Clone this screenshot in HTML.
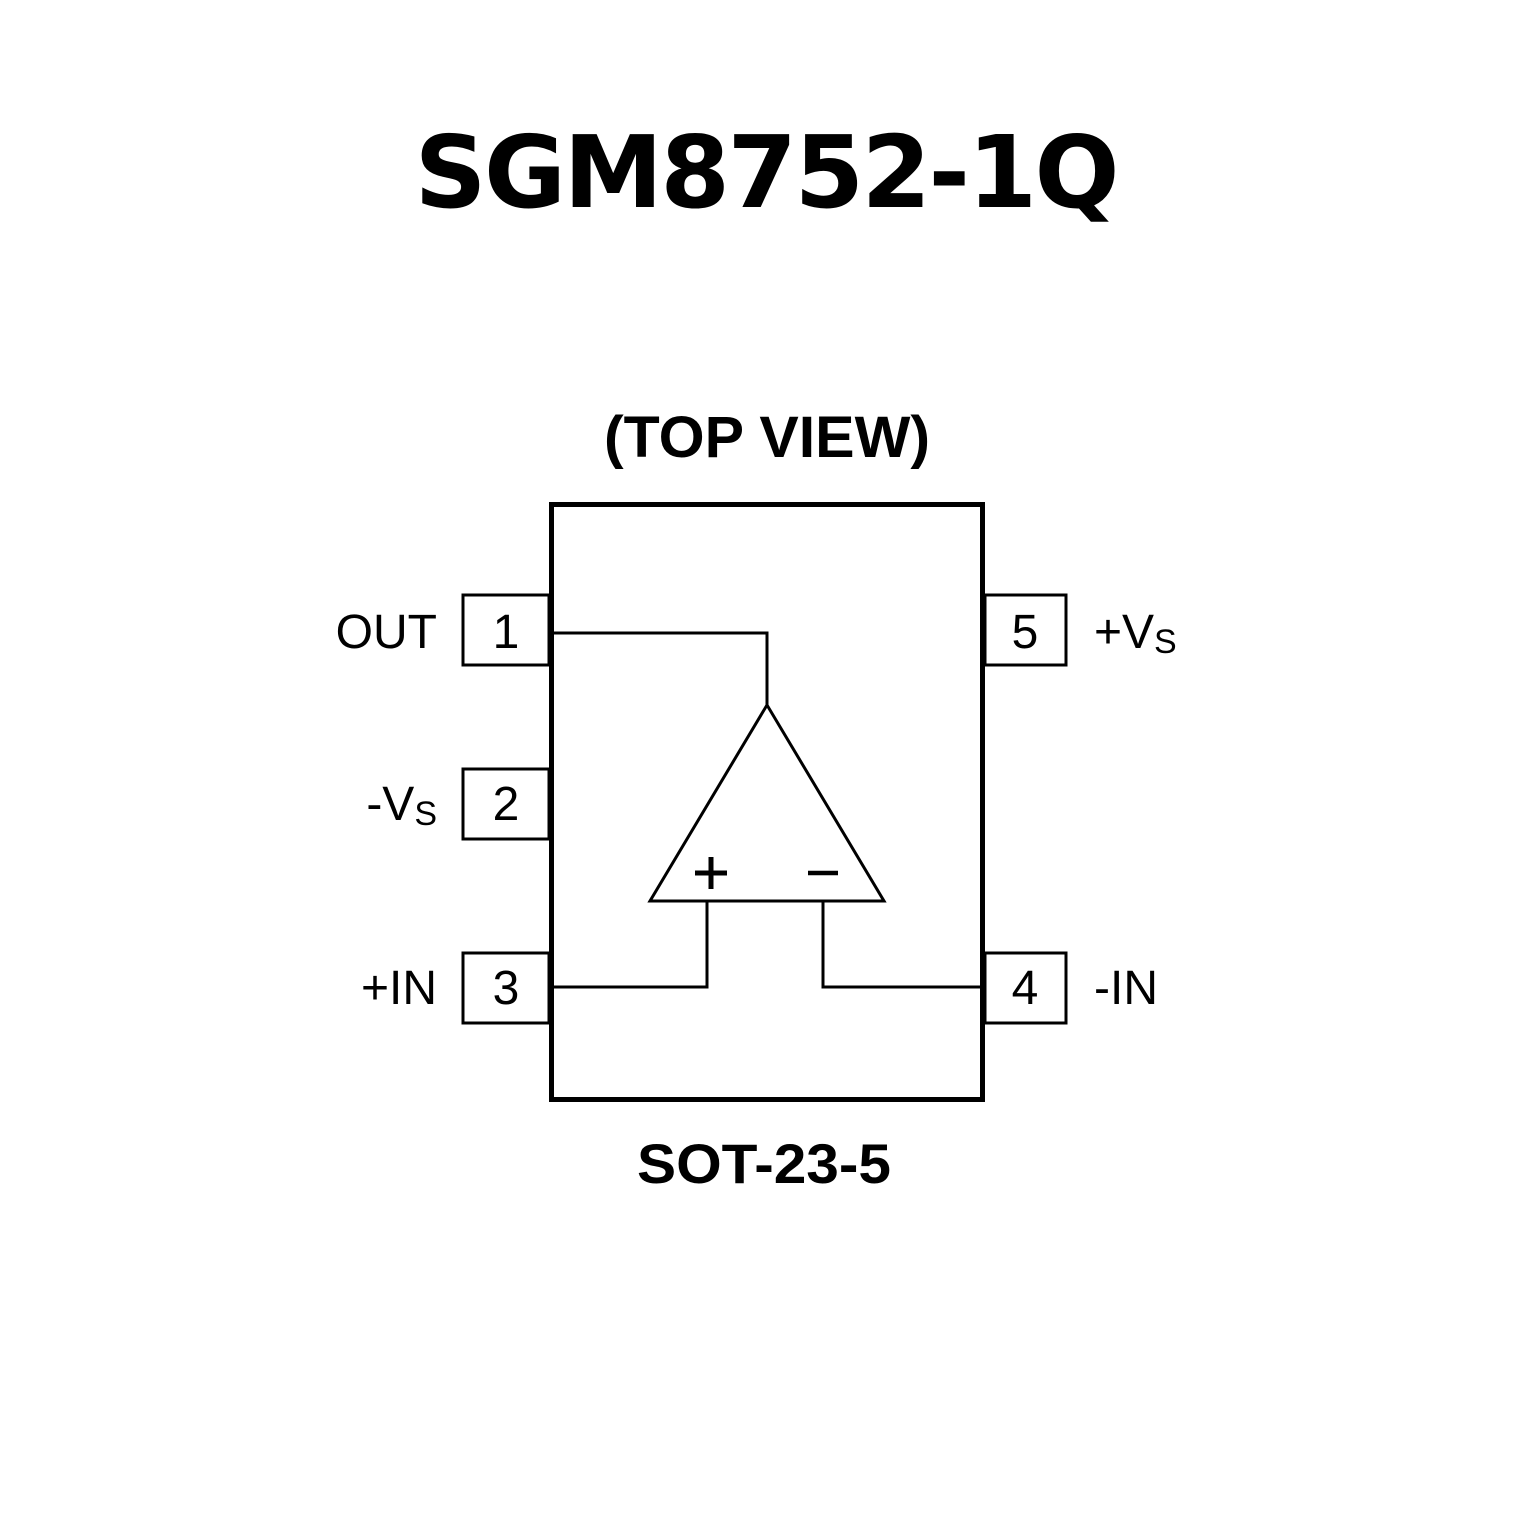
<!DOCTYPE html>
<html><head><meta charset="utf-8"><style>html,body{margin:0;padding:0;background:#fff}</style></head>
<body>
<svg width="1535" height="1535" viewBox="0 0 1535 1535" xmlns="http://www.w3.org/2000/svg">
<rect width="1535" height="1535" fill="#fff"/>
<text x="767" y="207" text-anchor="middle" font-family="DejaVu Sans, Liberation Sans, sans-serif" font-weight="bold" font-size="100" textLength="705" lengthAdjust="spacing">SGM8752-1Q</text>
<text x="767" y="457" text-anchor="middle" font-family="Liberation Sans, sans-serif" font-weight="bold" font-size="58" textLength="326" lengthAdjust="spacingAndGlyphs">(TOP VIEW)</text>
<text x="764" y="1183" text-anchor="middle" font-family="Liberation Sans, sans-serif" font-weight="bold" font-size="56" textLength="254" lengthAdjust="spacingAndGlyphs">SOT-23-5</text>
<rect x="551.5" y="504.5" width="431" height="595" fill="none" stroke="#000" stroke-width="5"/>
<g fill="none" stroke="#000" stroke-width="3">
<rect x="463" y="595" width="86" height="70"/>
<rect x="463" y="769" width="86" height="70"/>
<rect x="463" y="953" width="86" height="70"/>
<rect x="985" y="595" width="81" height="70"/>
<rect x="985" y="953" width="81" height="70"/>
<polyline points="551,633 767,633 767,705"/>
<polygon points="767,705 650,901 884,901"/>
<polyline points="707,901 707,987 551,987"/>
<polyline points="823,901 823,987 983,987"/>
</g>
<g font-family="Liberation Sans, sans-serif" font-size="48">
<text x="506" y="648" text-anchor="middle">1</text>
<text x="506" y="820" text-anchor="middle">2</text>
<text x="506" y="1004" text-anchor="middle">3</text>
<text x="1025" y="1004" text-anchor="middle">4</text>
<text x="1025" y="648" text-anchor="middle">5</text>
<text x="437" y="648" text-anchor="end">OUT</text>
<text x="437" y="820" text-anchor="end">-V<tspan font-size="34" dy="5">S</tspan></text>
<text x="437" y="1004" text-anchor="end">+IN</text>
<text x="1094" y="1004">-IN</text>
<text x="1094" y="648">+V<tspan font-size="34" dy="5">S</tspan></text>
</g>
<line x1="695" y1="873" x2="727" y2="873" stroke="#000" stroke-width="5"/>
<line x1="711" y1="857" x2="711" y2="889" stroke="#000" stroke-width="5"/>
<line x1="808" y1="873" x2="838" y2="873" stroke="#000" stroke-width="4.5"/>
</svg>
</body></html>
